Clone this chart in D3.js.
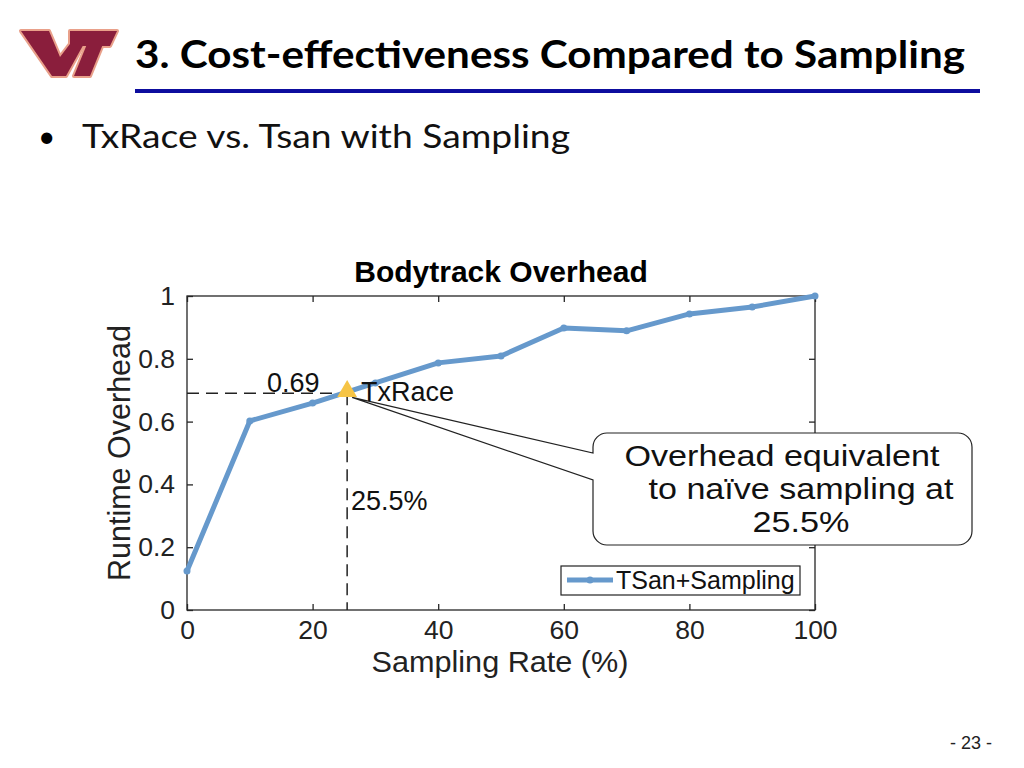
<!DOCTYPE html>
<html><head><meta charset="utf-8">
<script src="https://cdn.jsdelivr.net/npm/d3@7"></script>
<style>body{margin:0;background:#fff;} svg{display:block;}</style>
</head><body>
<svg id="c" width="1024" height="768"></svg>
<script>
const samplingRates = [0,10,20,30,40,50,60,70,80,90,100];
const overheads = [0.124,0.602,0.659,0.723,0.787,0.809,0.898,0.889,0.943,0.965,1.0];
const xTicks = [0,20,40,60,80,100];
const yTicks = [0,0.2,0.4,0.6,0.8,1];
const txRace = {rate:25.5, overhead:0.69};
const slideTitle = "3. Cost-effectiveness Compared to Sampling";
const bulletText = "TxRace vs. Tsan with Sampling";
const chartTitle = "Bodytrack Overhead";
const xLabel = "Sampling Rate (%)";
const yLabel = "Runtime Overhead";
const seriesName = "TSan+Sampling";
const calloutLines = ["Overhead equivalent","to naïve sampling at","25.5%"];
const pageNum = "- 23 -";

const svg = d3.select("#c");
const AF = "Liberation Sans, Arial, sans-serif";

// Logo
const logo = svg.append("g");
const V = [[21,31],[49,31],[60,57],[73,40],[86,40],[66,76],[52,76]];
const Bar = [[70,31],[117,31],[110,46],[70,46]];
const Stem = [[87,44],[103,44],[90,76],[74,76]];
const polys=[V,Bar,Stem];
polys.forEach(p=>logo.append("polygon").attr("points",p.map(d=>d.join(",")).join(" ")).attr("fill","#e9a08a").attr("stroke","#e9a08a").attr("stroke-width",4).attr("stroke-linejoin","round"));
polys.forEach(p=>logo.append("polygon").attr("points",p.map(d=>d.join(",")).join(" ")).attr("fill","#8a1e3c"));

// Slide title
svg.append("text").attr("x",135).attr("y",68).attr("font-family","Lato, 'Open Sans', sans-serif").attr("font-weight","bold")
  .attr("font-size",38).attr("textLength",830).attr("lengthAdjust","spacingAndGlyphs").attr("fill","#000").text(slideTitle);
svg.append("rect").attr("x",135).attr("y",89).attr("width",845).attr("height",4).attr("fill","#0d0d9e");

// Bullet
svg.append("text").attr("x",38).attr("y",147).attr("font-family","Lato, 'Open Sans', sans-serif").attr("font-size",30).text("•");
svg.append("text").attr("x",82).attr("y",148).attr("font-family","Lato, 'Open Sans', sans-serif")
  .attr("font-size",32).attr("textLength",488).attr("lengthAdjust","spacingAndGlyphs").attr("fill","#111").text(bulletText);

// Chart
const L=187,R=815,T=296,B=610;
const x=d3.scaleLinear().domain([0,100]).range([L,R]);
const y=d3.scaleLinear().domain([0,1]).range([B,T]);
const g=svg.append("g");
const axCol="#262626";

g.append("rect").attr("x",L).attr("y",T).attr("width",R-L).attr("height",B-T).attr("fill","none").attr("stroke",axCol).attr("stroke-width",1.3);

const xa=g.append("g").attr("transform",`translate(0,${B})`).call(d3.axisBottom(x).tickValues(xTicks).tickSize(-6).tickPadding(10).tickFormat(d3.format("d")));
const xt=g.append("g").attr("transform",`translate(0,${T})`).call(d3.axisTop(x).tickValues(xTicks).tickSize(-6).tickFormat(""));
const ya=g.append("g").attr("transform",`translate(${L},0)`).call(d3.axisLeft(y).tickValues(yTicks).tickSize(-6).tickPadding(12).tickFormat(d=>d===0||d===1?d3.format("d")(d):d3.format(".1f")(d)));
const yr=g.append("g").attr("transform",`translate(${R},0)`).call(d3.axisRight(y).tickValues(yTicks).tickSize(-6).tickFormat(""));
[xa,xt,ya,yr].forEach(a=>{a.select(".domain").remove();a.selectAll("line").attr("stroke",axCol).attr("stroke-width",1.3);a.selectAll("text").attr("font-family",AF).attr("font-size",26.5).attr("fill","#222");});
xa.selectAll("text").attr("dy","0.7em");

// Title & labels
g.append("text").attr("x",501).attr("y",282).attr("text-anchor","middle").attr("font-family",AF).attr("font-weight","bold").attr("font-size",30).text(chartTitle);
g.append("text").attr("x",500).attr("y",672).attr("text-anchor","middle").attr("font-family",AF).attr("font-size",30).attr("textLength",257).attr("lengthAdjust","spacingAndGlyphs").attr("fill","#222").text(xLabel);
g.append("text").attr("transform",`translate(130,453) rotate(-90)`).attr("text-anchor","middle").attr("font-family",AF).attr("font-size",30.5).attr("fill","#222").text(yLabel);

// Dashed guide lines
g.append("line").attr("x1",L).attr("x2",x(txRace.rate)).attr("y1",y(txRace.overhead)).attr("y2",y(txRace.overhead)).attr("stroke","#222").attr("stroke-width",1.5).attr("stroke-dasharray","12,7");
g.append("line").attr("x1",x(txRace.rate)).attr("x2",x(txRace.rate)).attr("y1",y(txRace.overhead)).attr("y2",B).attr("stroke","#222").attr("stroke-width",1.5).attr("stroke-dasharray","12,7");

// Line
const line=d3.line().x((d,i)=>x(samplingRates[i])).y(d=>y(d));
g.append("path").datum(overheads).attr("d",line).attr("fill","none").attr("stroke","#6699cc").attr("stroke-width",5).attr("stroke-linejoin","round");
g.selectAll("circle.pt").data(overheads).join("circle").attr("class","pt").attr("cx",(d,i)=>x(samplingRates[i])).attr("cy",d=>y(d)).attr("r",3.5).attr("fill","#6699cc");

// Callout
const tx=x(txRace.rate)+5, ty=y(txRace.overhead)+4;
const cx0=593,cx1=972,cy0=433,cy1=545,rr=14;
const cp=d3.path();
cp.moveTo(cx0+rr,cy0); cp.lineTo(cx1-rr,cy0); cp.arcTo(cx1,cy0,cx1,cy0+rr,rr);
cp.lineTo(cx1,cy1-rr); cp.arcTo(cx1,cy1,cx1-rr,cy1,rr);
cp.lineTo(cx0+rr,cy1); cp.arcTo(cx0,cy1,cx0,cy1-rr,rr);
cp.lineTo(cx0,480); cp.lineTo(tx,ty); cp.lineTo(cx0,453);
cp.lineTo(cx0,cy0+rr); cp.arcTo(cx0,cy0,cx0+rr,cy0,rr); cp.closePath();
g.append("path").attr("d",cp.toString()).attr("fill","#fff").attr("stroke","#222").attr("stroke-width",1.2);
const ct=[[782,466,315],[801,499,305],[801,532,97]];
calloutLines.forEach((t,i)=>g.append("text").attr("x",ct[i][0]).attr("y",ct[i][1]).attr("text-anchor","middle").attr("font-family",AF).attr("font-size",29).attr("textLength",ct[i][2]).attr("lengthAdjust","spacingAndGlyphs").attr("fill","#111").text(t));

// Triangle marker
g.append("path").attr("d",d3.symbol().type(d3.symbolTriangle).size(170)).attr("transform",`translate(${x(txRace.rate)},${y(txRace.overhead)-2})`).attr("fill","#f6c445");

// Annotations
g.append("text").attr("x",267).attr("y",392).attr("font-family",AF).attr("font-size",27).attr("fill","#111").text(d3.format(".2f")(txRace.overhead));
g.append("text").attr("x",361).attr("y",401).attr("font-family",AF).attr("font-size",27).attr("fill","#111").text("TxRace");
g.append("text").attr("x",351).attr("y",510).attr("font-family",AF).attr("font-size",27).attr("fill","#111").text(txRace.rate+"%");

// Legend
g.append("rect").attr("x",561).attr("y",566).attr("width",239).attr("height",29).attr("fill","#fff").attr("stroke","#222").attr("stroke-width",1.2);
g.append("line").attr("x1",567).attr("x2",613).attr("y1",580).attr("y2",580).attr("stroke","#6699cc").attr("stroke-width",5);
g.append("circle").attr("cx",590).attr("cy",580).attr("r",3.5).attr("fill","#6699cc");
g.append("text").attr("x",616).attr("y",589).attr("font-family",AF).attr("font-size",25).attr("fill","#111").text(seriesName);

// Page number
svg.append("text").attr("x",971).attr("y",749).attr("text-anchor","middle").attr("font-family",AF).attr("font-size",18).attr("fill","#222").text(pageNum);
</script>
</body></html>
